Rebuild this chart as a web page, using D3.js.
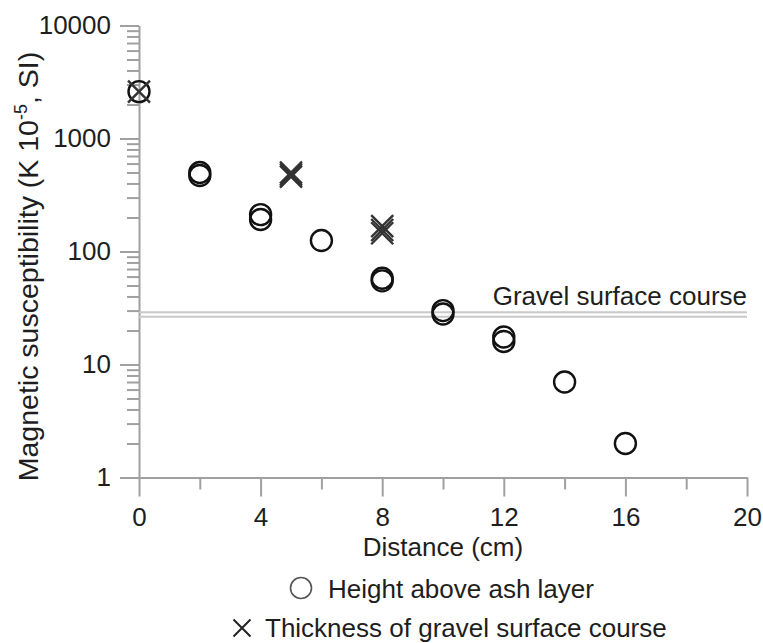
<!DOCTYPE html>
<html>
<head>
<meta charset="utf-8">
<script src="https://cdn.jsdelivr.net/npm/d3@7/dist/d3.min.js"></script>
<style>
  html, body { margin: 0; padding: 0; background: #fff; }
  svg { display: block; font-family: "Liberation Sans", Arial, sans-serif; }
</style>
</head>
<body>
<svg id="chart" width="763" height="643"></svg>
<script>
// ---- data ----
const circleX = [0, 2, 2, 4, 4, 6, 8, 8, 10, 10, 12, 12, 14, 16];
const circleY = [2600, 470, 500, 212, 192, 125, 55, 58, 28, 30, 16, 17.5, 7, 2];
const crossX = [0, 5, 5, 5, 8, 8, 8];
const crossY = [2600, 460, 480, 500, 145, 155, 168];
const gravelLevels = [26.5, 29];
const xTicksMajor = [0, 4, 8, 12, 16, 20];
const xTicksMinor = [2, 6, 10, 14, 18];
const yTicksMajor = [1, 10, 100, 1000, 10000];
const yTickLabels = ["1", "10", "100", "1000", "10000"];
const legendLabels = ["Height above ash layer", "Thickness of gravel surface course"];
const gravelLabel = "Gravel surface course";

// ---- layout ----
const svg = d3.select("#chart");
const x = d3.scaleLinear().domain([0, 20]).range([139, 747]);
const y = d3.scaleLog().domain([1, 10000]).range([477.5, 25.5]);
const axisColor = "#a0a0a0";
const textColor = "#1e1e1e";

const yMinor = [];
yTicksMajor.slice(0, -1).forEach(d => { for (let k = 2; k <= 9; k++) yMinor.push(d * k); });

// minor y ticks
const gyMinor = svg.append("g").attr("transform", `translate(${x(0)},0)`)
  .call(d3.axisLeft(y).tickValues(yMinor).tickSize(12).tickFormat(""));
gyMinor.select(".domain").remove();
// major y axis
const gy = svg.append("g").attr("transform", `translate(${x(0)},0)`)
  .call(d3.axisLeft(y).tickValues(yTicksMajor).tickSize(19).tickSizeOuter(0).tickPadding(9)
    .tickFormat((d, i) => yTickLabels[i]));
// minor x ticks
const gxMinor = svg.append("g").attr("transform", `translate(0,${y(1)})`)
  .call(d3.axisBottom(x).tickValues(xTicksMinor).tickSize(12).tickFormat(""));
gxMinor.select(".domain").remove();
// major x axis
const gx = svg.append("g").attr("transform", `translate(0,${y(1)})`)
  .call(d3.axisBottom(x).tickValues(xTicksMajor).tickSize(19).tickSizeOuter(0).tickPadding(11));

svg.selectAll(".tick line, .domain").attr("stroke", axisColor).attr("stroke-width", 2);
svg.selectAll(".tick text").attr("fill", textColor).attr("font-size", 26)
  .attr("font-family", "'Liberation Sans', Arial, sans-serif");

// gravel surface course lines
svg.append("g").selectAll("line").data(gravelLevels).join("line")
  .attr("x1", x(0)).attr("x2", x(20))
  .attr("y1", d => y(d)).attr("y2", d => y(d))
  .attr("stroke", "#c8c8c8").attr("stroke-width", 2);
svg.append("text").attr("x", x(20)).attr("y", y(d3.max(gravelLevels)) - 7)
  .attr("text-anchor", "end").attr("font-size", 26).attr("fill", textColor)
  .text(gravelLabel);

// circles
svg.append("g").selectAll("circle").data(circleX.map((d, i) => [d, circleY[i]])).join("circle")
  .attr("cx", d => x(d[0])).attr("cy", d => y(d[1])).attr("r", 10.5)
  .attr("fill", "none").attr("stroke", "#111").attr("stroke-width", 2.4);

// crosses
const cs = 11;
svg.append("g").selectAll("path").data(crossX.map((d, i) => [d, crossY[i]])).join("path")
  .attr("d", d => {
    const cx = x(d[0]), cy = y(d[1]);
    return `M${cx - cs},${cy - cs}L${cx + cs},${cy + cs}M${cx - cs},${cy + cs}L${cx + cs},${cy - cs}`;
  })
  .attr("fill", "none").attr("stroke", "#333").attr("stroke-width", 2.4);

// axis titles
svg.append("text").attr("x", (x(0) + x(20)) / 2).attr("y", 556)
  .attr("text-anchor", "middle").attr("font-size", 26).attr("fill", textColor)
  .text("Distance (cm)");

const yt = svg.append("text").attr("transform", `translate(38,${(y(1) + y(10000)) / 2 + 15}) rotate(-90)`)
  .attr("text-anchor", "middle").attr("font-size", 28.5).attr("fill", textColor);
yt.append("tspan").text("Magnetic susceptibility (Κ 10");
yt.append("tspan").attr("font-size", 18).attr("dy", -11).text("-5");
yt.append("tspan").attr("dy", 11).text(", SI)");

// legend
svg.append("circle").attr("cx", 301).attr("cy", 588).attr("r", 10.5)
  .attr("fill", "none").attr("stroke", "#555").attr("stroke-width", 1.6);
svg.append("text").attr("x", 328).attr("y", 598).attr("font-size", 26).attr("fill", textColor)
  .text(legendLabels[0]);
const lx = 242, ly = 628, ls = 8.5;
svg.append("path").attr("d", `M${lx - ls},${ly - ls}L${lx + ls},${ly + ls}M${lx - ls},${ly + ls}L${lx + ls},${ly - ls}`)
  .attr("stroke", "#222").attr("stroke-width", 2);
svg.append("text").attr("x", 265).attr("y", 637).attr("font-size", 26).attr("fill", textColor)
  .text(legendLabels[1]);
</script>
</body>
</html>
